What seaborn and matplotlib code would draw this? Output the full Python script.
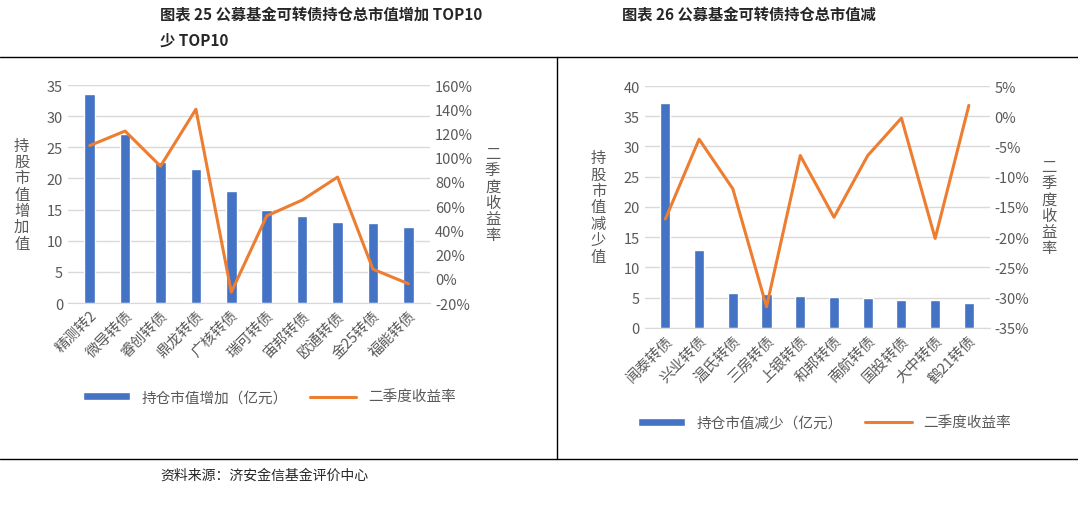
import seaborn as sns
import matplotlib.pyplot as plt
import matplotlib.ticker as mtick
import pandas as pd

sns.set_style('white')
plt.rcParams['font.family'] = ['Noto Sans CJK SC', 'DejaVu Sans']

up_names = ['精测转2', '微导转债', '睿创转债', '鼎龙转债', '广核转债', '瑞可转债', '宙邦转债', '欧通转债', '金25转债', '福能转债']
up_value = [33.5, 27.2, 22.7, 21.6, 18.0, 14.9, 13.9, 13.0, 12.8, 12.2]
up_ret = [110, 122, 93, 140, -11, 52, 65, 84, 8, -4]

down_names = ['闻泰转债', '兴业转债', '温氏转债', '三房转债', '上银转债', '和邦转债', '南航转债', '国投转债', '大中转债', '鹤21转债']
down_value = [37.2, 12.9, 5.8, 5.6, 5.3, 5.1, 5.0, 4.6, 4.6, 4.1]
down_ret = [-17.0, -3.8, -12.0, -31.5, -6.5, -16.7, -6.5, -0.3, -20.2, 1.8]

BLUE = '#4472c4'
ORANGE = '#ed7d31'
GREY = '#595959'

fig = plt.figure(figsize=(10.78, 5.06), dpi=100)


def panel(rect, names, vals, rets, ylim, ystep, rlim, rstep, ylabel, barlabel, leg_xy):
    ax = fig.add_axes(rect)
    df = pd.DataFrame({'name': names, 'value': vals, 'ret': rets})
    sns.barplot(data=df, x='name', y='value', color=BLUE, width=0.3, ax=ax,
                label=barlabel, saturation=1)
    ax.set_ylim(*ylim)
    ax.set_yticks(range(ylim[0], ylim[1] + 1, ystep))
    ax.yaxis.grid(True, color='#d9d9d9', lw=1)
    ax.set_axisbelow(True)
    ax.set_xlabel('')
    ax.set_ylabel('\n'.join(ylabel), rotation=0, color=GREY, fontsize=11,
                  va='center', labelpad=18, linespacing=0.95)
    ax.tick_params(axis='x', rotation=45, labelsize=10.5, colors=GREY, length=0)
    for t in ax.get_xticklabels():
        t.set_ha('right')
        t.set_rotation_mode('anchor')
    ax.tick_params(axis='y', labelsize=10.5, colors=GREY, length=0)
    for s in ax.spines.values():
        s.set_visible(False)
    ax.spines['bottom'].set_visible(True)
    ax.spines['bottom'].set_color('#d9d9d9')

    ax2 = ax.twinx()
    sns.lineplot(x=list(range(len(names))), y=rets, ax=ax2, color=ORANGE, lw=2.2,
                 label='二季度收益率', legend=False)
    ax2.set_ylim(*rlim)
    ax2.set_yticks(range(rlim[0], rlim[1] + 1, rstep))
    ax2.yaxis.set_major_formatter(mtick.FuncFormatter(lambda v, p: f'{v:.0f}%'))
    ax2.tick_params(axis='y', labelsize=10.5, colors=GREY, length=0)
    ax2.set_ylabel('\n'.join('二季度收益率'), rotation=0, color=GREY, fontsize=11,
                   va='center', labelpad=14, linespacing=0.95)
    for s in ax2.spines.values():
        s.set_visible(False)
    h1, l1 = ax.get_legend_handles_labels()
    h2, l2 = ax2.get_legend_handles_labels()
    if ax.get_legend() is not None:
        ax.get_legend().remove()
    if ax2.get_legend() is not None:
        ax2.get_legend().remove()
    fig.legend(h1[:1] + h2[:1], l1[:1] + l2[:1], loc='center', bbox_to_anchor=leg_xy, ncol=2,
               frameon=False, fontsize=10.5, labelcolor=GREY, handlelength=3.2,
               handleheight=0.5, columnspacing=1.5)


panel([0.063, 0.399, 0.336, 0.431], up_names, up_value, up_ret, (0, 35), 5, (-20, 160), 20,
      '持股市值增加值', '持仓市值增加（亿元）', (0.25, 0.213))
panel([0.598, 0.350, 0.320, 0.478], down_names, down_value, down_ret, (0, 40), 5, (-35, 5), 5,
      '持股市值减少值', '持仓市值减少（亿元）', (0.765, 0.162))

# frame lines and titles
fig.add_artist(plt.Line2D([0, 1], [1 - 58 / 506] * 2, color='black', lw=1))
fig.add_artist(plt.Line2D([0, 1], [1 - 460 / 506] * 2, color='black', lw=1))
fig.add_artist(plt.Line2D([557 / 1078] * 2, [1 - 58 / 506, 1 - 460 / 506], color='black', lw=1))
fig.text(160 / 1078, 1 - 15 / 506, '图表 25 公募基金可转债持仓总市值增加 TOP10', fontsize=11,
         weight='bold', va='center')
fig.text(160 / 1078, 1 - 41 / 506, '少 TOP10', fontsize=11, weight='bold', va='center')
fig.text(622 / 1078, 1 - 15 / 506, '图表 26 公募基金可转债持仓总市值减', fontsize=11,
         weight='bold', va='center')
fig.text(160 / 1078, 1 - 476 / 506, '资料来源：济安金信基金评价中心', fontsize=10,
         style='italic', va='center')

plt.savefig('out.png', dpi=100)
